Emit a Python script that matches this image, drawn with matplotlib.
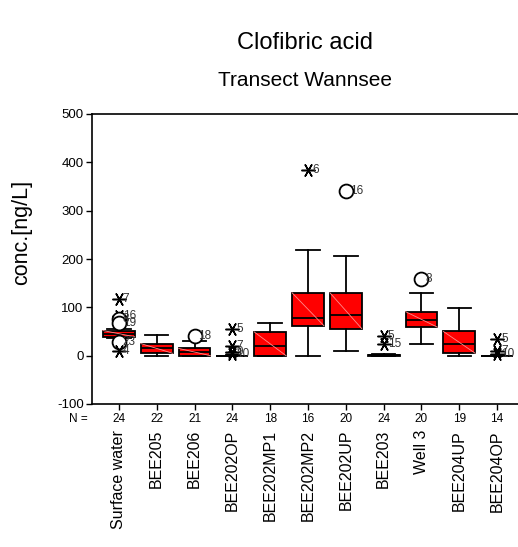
import matplotlib
matplotlib.use("Agg")
import matplotlib.pyplot as plt
from matplotlib.transforms import offset_copy

plt.rcParams["font.family"] = ["Liberation Sans", "DejaVu Sans"]
plt.rcParams["axes.unicode_minus"] = False

cats = ["Surface water", "BEE205", "BEE206", "BEE202OP", "BEE202MP1", "BEE202MP2",
        "BEE202UP", "BEE203", "Well 3", "BEE204UP", "BEE204OP"]
n_vals = [24, 22, 21, 24, 18, 16, 20, 24, 20, 19, 14]
q1 = [39, 5, 0, 0, 0, 62, 56, 0, 59, 5, 0]
med = [45.5, 15, 7, 0, 19, 78, 84, 0.5, 74, 24, 0]
q3 = [52, 25, 15, 0, 49, 130, 130, 2, 91, 50, 0]
whislo = [37, 0, 0, 0, 0, 0, 10, 0, 24, 0, 0]
whishi = [55, 43, 31, 0, 68, 219, 206, 3, 130, 99, 0]

# outliers: (category index, value, kind, case label)
outliers = [
    (0, 118, "star", "7"), (0, 83, "star", "16"), (0, 76, "circle", "8"),
    (0, 68, "circle", "19"), (0, 28, "circle", "23"), (0, 10, "star", "4"),
    (2, 41, "circle", "18"),
    (3, 55, "star", "5"), (3, 20, "star", "7"), (3, 8, "star", "9"), (3, 4, "star", "10"),
    (5, 385, "star", "6"),
    (6, 340, "circle", "16"),
    (7, 40, "star", "5"), (7, 25, "star", "15"),
    (8, 158, "circle", "8"),
    (10, 34, "star", "5"), (10, 9, "star", "7"), (10, 4, "star", "10"),
]

fig = plt.figure(figsize=(5.18, 5.47), dpi=100)
ax = fig.add_axes([92 / 518, 143 / 547, 432 / 518, 290 / 547])

pos = list(range(len(cats)))
w = 0.84
stats = []
for i in pos:
    stats.append(dict(med=med[i], q1=q1[i], q3=q3[i], whislo=whislo[i], whishi=whishi[i]))

ax.bxp(stats, positions=pos, widths=w, capwidths=0.62, patch_artist=True, showfliers=False,
       boxprops=dict(facecolor="#ff0000", edgecolor="black", linewidth=1.3),
       medianprops=dict(color="black", linewidth=1.3),
       whiskerprops=dict(color="black", linewidth=1.3),
       capprops=dict(color="black", linewidth=1.3))

# faint diagonal hatch line inside each box
for i in pos:
    if q3[i] - q1[i] > 5:
        ax.plot([i - w / 2, i + w / 2], [q3[i], q1[i]], color="#ff8c8c", lw=0.6, zorder=2.5)

lbl_tr = offset_copy(ax.transData, fig=fig, x=4, y=0, units="dots")
for i, v, kind, lab in outliers:
    if kind == "star":
        ax.plot(i, v, marker=(6, 2, 90), ms=10, mec="black", mew=1.1, ls="none", zorder=4)
    else:
        ax.plot(i, v, marker="o", ms=10, mfc="white", mec="black", mew=1.3, ls="none", zorder=4)
    ax.text(i, v, lab, transform=lbl_tr, fontsize=8.5, color="#333333", va="center", ha="left",
            zorder=5)

ax.set_xlim(-0.71, 10.71)
ax.set_ylim(-100, 500)
ax.set_yticks([-100, 0, 100, 200, 300, 400, 500])
ax.tick_params(axis="y", labelsize=9.5, length=4, width=1, direction="out", pad=2)
ax.set_xticks(pos)
ax.set_xticklabels([])
ax.tick_params(axis="x", length=4, width=1, direction="out")
for s in ["left", "top", "bottom", "right"]:
    ax.spines[s].set_linewidth(1.2)

tr = ax.get_xaxis_transform()
ax.text(-0.71, -15 / 290, "N =", transform=offset_copy(tr, fig=fig, x=-4, y=0, units="dots"),
        ha="right", va="center", fontsize=8.5)
for i in pos:
    ax.text(i, -15 / 290, str(n_vals[i]), transform=tr, ha="center", va="center", fontsize=8.5)
    ax.text(i, -26 / 290, cats[i], transform=tr, ha="center", va="top", rotation=90,
            fontsize=11.5)

fig.text(22 / 518, 1 - 232 / 547, "conc.[ng/L]", rotation=90, ha="center", va="center",
         fontsize=15.5)
fig.text(305 / 518, 1 - 43 / 547, "Clofibric acid", ha="center", va="center", fontsize=17)
fig.text(305 / 518, 1 - 80 / 547, "Transect Wannsee", ha="center", va="center", fontsize=15)

fig.savefig("out.png", dpi=100)
